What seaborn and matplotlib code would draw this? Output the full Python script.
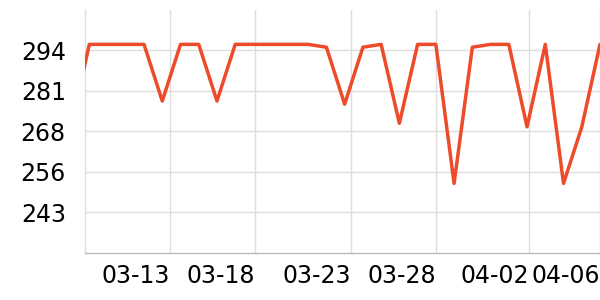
import matplotlib
matplotlib.use("Agg")
import matplotlib.pyplot as plt
import seaborn as sns
import pandas as pd

# data (index positions)
point_index = list(range(30))
values = [270.0, 296.0, 296.0, 296.0, 296.0, 278.2, 296.0, 296.0, 278.2, 296.0,
          296.0, 296.0, 296.0, 296.0, 295.1, 277.2, 295.1, 296.0, 271.2, 296.0,
          296.0, 252.3, 295.1, 296.0, 296.0, 270.1, 296.0, 252.3, 270.0, 296.0]
x_tick_pos = [5.44, 10.10, 15.36, 19.99, 25.12, 29.0]
x_tick_labels = ["03-13", "03-18", "03-23", "03-28", "04-02", "04-06"]
y_tick_pos = [243.3, 256.0, 268.7, 281.4, 294.1]
y_tick_labels = ["243", "256", "268", "281", "294"]

df = pd.DataFrame({"idx": point_index, "value": values})

sns.set_theme(style="white")
plt.rcParams['font.family'] = ['DejaVu Sans']

fig = plt.figure(figsize=(6, 3), dpi=100)
ax = fig.add_axes([85.3 / 600, (300 - 252.5) / 300, 1 - 85.3 / 600, (252.5 - 10) / 300])

sns.lineplot(data=df, x="idx", y="value", ax=ax, color="#ee4b2b", linewidth=2.5, zorder=3)

ax.set_xlim(0.78, 29.0)
ax.set_ylim(230.6, 306.8)
ax.set_xticks(x_tick_pos)
ax.set_xticklabels(x_tick_labels, ha="right")
ax.set_yticks(y_tick_pos)
ax.set_yticklabels(y_tick_labels)
ax.set_xlabel("")
ax.set_ylabel("")

ax.grid(True, color="#dddddd", linewidth=1.0)
ax.set_axisbelow(True)
for s in ["top", "right"]:
    ax.spines[s].set_visible(False)
ax.spines["left"].set_color("#dddddd")
ax.spines["left"].set_linewidth(1.0)
ax.spines["bottom"].set_color("#bbbbbb")
ax.spines["bottom"].set_linewidth(1.0)

ax.tick_params(axis="x", length=3, width=1, color="#bbbbbb", pad=5, labelsize=17, labelcolor="black")
ax.tick_params(axis="y", length=2, width=1, color="#dddddd", pad=12, labelsize=17, labelcolor="black")

fig.savefig("out.png", dpi=100)
